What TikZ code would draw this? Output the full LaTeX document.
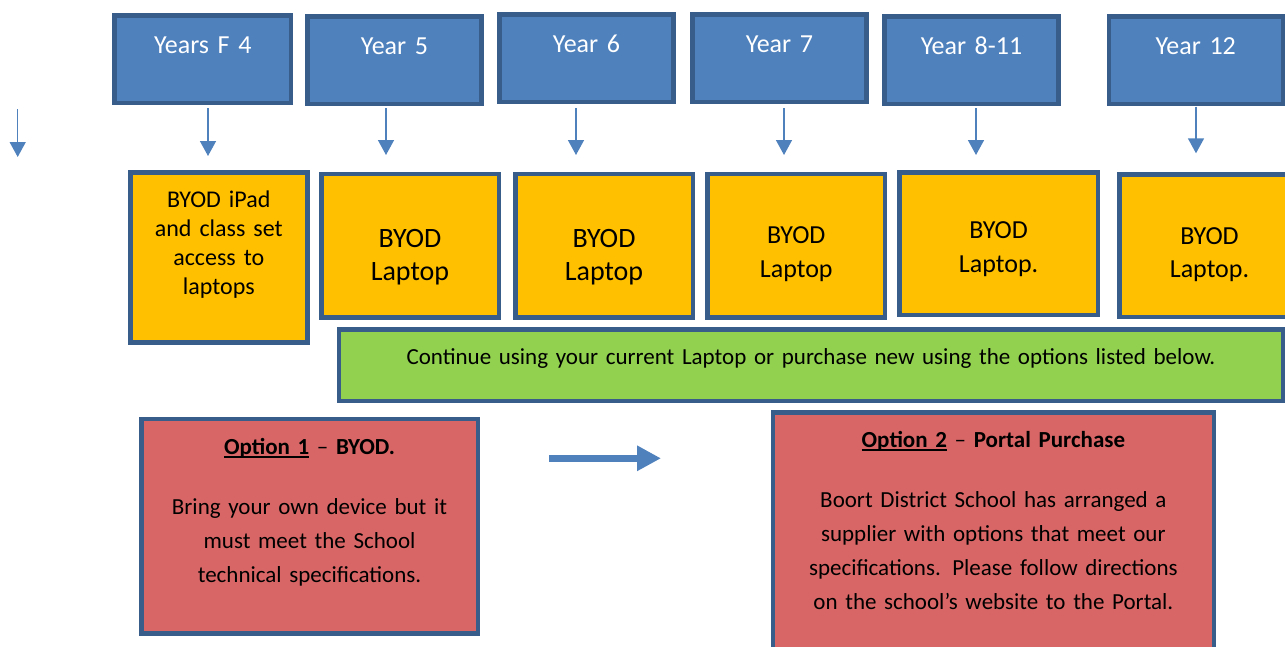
\documentclass[tikz,border=0pt]{standalone}
\usepackage{fontspec}
\setmainfont{Carlito}
\usepackage{tikz}
\usetikzlibrary{arrows.meta}

\definecolor{yearblue}{RGB}{79,129,189}
\definecolor{edgeblue}{RGB}{56,93,138}
\definecolor{byodgold}{RGB}{255,192,0}
\definecolor{notegreen}{RGB}{146,208,80}
\definecolor{optionred}{RGB}{217,102,102}

\newsavebox{\optbox}
\newcommand{\optline}[1]{\sbox{\optbox}{\textbf{#1}}\rlap{\rule[-3.2pt]{\wd\optbox}{1.3pt}}\usebox{\optbox}}

\begin{document}
\begin{tikzpicture}[x=1pt,y=-1pt,
  box/.style={draw=edgeblue,line width=4.5pt,inner sep=0pt,align=center,anchor=north west},
  yearbox/.style={box,fill=yearblue,text=white,text width=174pt,text height=38pt,text depth=49.5pt,font=\fontsize{26}{31}\selectfont},
  byodbox/.style={box,fill=byodgold,text width=177.5pt},
  notebox/.style={box,fill=notegreen,font=\fontsize{23}{28}\selectfont},
  optionbox/.style={box,fill=optionred,font=\fontsize{23}{34}\selectfont},
  downarrow/.style={-{Triangle[length=15pt,width=16pt]},color=yearblue,line width=1.5pt},
  bigarrow/.style={-{Triangle[length=24pt,width=24pt]},color=yearblue,line width=6.5pt}]

  \useasboundingbox (0,0) rectangle (1285,646);

  % year groups
  \node (y4) [yearbox,text width=176.5pt] at (112.25,13.25) {Years F 4};
  \node (y5) [yearbox] at (305.25,14) {Year 5};
  \node (y6) [yearbox] at (497.25,12.25) {Year 6};
  \node (y7) [yearbox] at (690.25,12.25) {Year 7};
  \node (y8) [yearbox] at (882.25,14) {Year 8-11};
  \node (y12) [yearbox] at (1106.5,14) {Year 12};

  \foreach \n/\x/\ya/\yb in {0/17.7/109/157,1/208/108/156,2/386/108/155,3/576/108/155,4/784/108/155,5/976/108/155,6/1196/106.7/153.3}{
    \coordinate (top\n) at (\x,\ya);
    \coordinate (tip\n) at (\x,\yb);
    \draw[downarrow] (top\n) -- (tip\n);
  }

  % devices
  \node (b4) [byodbox,text width=177pt,text height=35pt,text depth=135pt,font=\fontsize{24}{29}\selectfont] at (128,170) {BYOD iPad\\and class set\\access to\\laptops};
  \node (b5) [byodbox,text height=73.5pt,text depth=70pt,font=\fontsize{28}{33}\selectfont] at (319,171.5) {BYOD\\Laptop};
  \node (b6) [byodbox,text height=73.5pt,text depth=70pt,font=\fontsize{28}{33}\selectfont] at (513,171.5) {BYOD\\Laptop};
  \node (b7) [byodbox,text height=70.2pt,text depth=73.5pt,font=\fontsize{26}{33.3}\selectfont] at (705.25,171.5) {BYOD\\Laptop};
  \node (b8) [byodbox,text width=198.25pt,text height=66.7pt,text depth=76pt,font=\fontsize{26}{33.3}\selectfont] at (897.25,170) {BYOD\\Laptop.};
  \node (b12) [byodbox,text width=180pt,text height=69.5pt,text depth=73pt,font=\fontsize{26}{33.3}\selectfont] at (1117.25,172.25) {BYOD\\Laptop.};

  \node (cont) [notebox,text width=944pt,text height=34.5pt,text depth=37pt] at (336.75,327.25) {Continue using your current Laptop or purchase new using the options listed below.};

  % options
  \node (opt1) [optionbox,text width=336.5pt,text height=35.8pt,text depth=178.7pt] at (139,416.5) {\optline{Option 1} – \textbf{BYOD.}\\[25.7pt]Bring your own device but it\\must meet the School\\technical specifications.};
  \node (opt2) [optionbox,text width=441.25pt,text height=35.3pt,text depth=250pt] at (770.5,410) {\optline{Option 2} – \textbf{Portal Purchase}\\[26pt]Boort District School has arranged a\\supplier with options that meet our\\specifications. Please follow directions\\on the school’s website to the Portal.};

  \coordinate (go) at (549,458.3);
  \coordinate (to) at (661,458.3);
  \draw[bigarrow] (go) -- (to);
\end{tikzpicture}
\end{document}
